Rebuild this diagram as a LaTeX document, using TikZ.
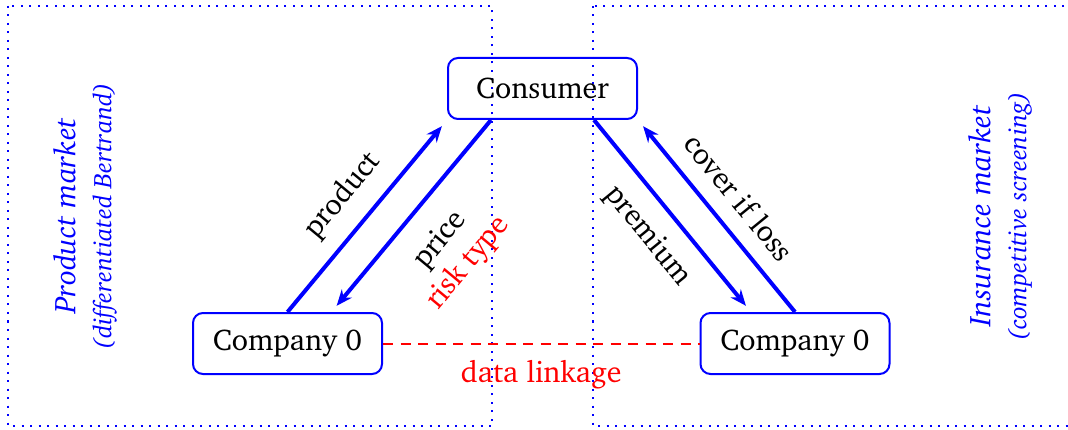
\documentclass[tikz,border=0pt]{standalone}
\usepackage[T1]{fontenc}
\usepackage{charter}
\usetikzlibrary{arrows.meta}

% font sizes for the diagram (1 unit = 1pt)
\newcommand\mainsize{\fontsize{30}{36}\selectfont}
\newcommand\subsize{\fontsize{25.5}{30}\selectfont}

\begin{document}
\begin{tikzpicture}[x=1pt,y=-1pt,
  party/.style={draw=blue, line width=2pt, rounded corners=10pt,
    minimum width=189pt, minimum height=61pt, inner sep=0pt, font=\mainsize},
  flow/.style={draw=blue, line width=4pt,
    -{Stealth[length=16pt,width=13pt]}, shorten >=8pt},
  lbl/.style={font=\mainsize, sloped, inner ysep=16pt},
  link/.style={draw=red, line width=2pt, dash pattern=on 10pt off 7.5pt},
  market/.style={draw=blue, line width=2pt, dash pattern=on 2pt off 6.5pt},
  title/.style={text=blue, rotate=90, align=center, font=\mainsize\itshape}
]
\useasboundingbox (0,0) rectangle (1068,430);

% market regions
\draw[market] (8,6) rectangle (492,426);
\draw[market] (593,6) rectangle (1080,426);

\node[title] (prodmkt) at (85,216)
  {Product market\\{\subsize(differentiated Bertrand)}};
\node[title] (insmkt) at (1000,216)
  {Insurance market\\{\subsize(competitive screening)}};

% parties
\node[party] (cons)  at (542.5,88.5) {Consumer};
\node[party] (compL) at (287.5,343.5) {Company 0};
\node[party] (compR) at (795,343.5) {Company 0};

% product market flows
\draw[flow] (compL.north) -- node[lbl, above] {product} (cons.south west);
\draw[flow] ([xshift=44pt]cons.south west) --
  node[lbl, below, align=center, inner ysep=22pt] {price\\\textcolor{red}{risk type}}
  ([xshift=44pt]compL.north);

% insurance market flows
\draw[flow] ([xshift=-44pt]cons.south east) --
  node[lbl, below] {premium} ([xshift=-44pt]compR.north);
\draw[flow] (compR.north) -- node[lbl, above] {cover if loss} (cons.south east);

% data linkage between the two companies
\draw[link] (compL.east) -- node[below, font=\mainsize, text=red, inner ysep=16pt] {data linkage} (compR.west);
\end{tikzpicture}
\end{document}
